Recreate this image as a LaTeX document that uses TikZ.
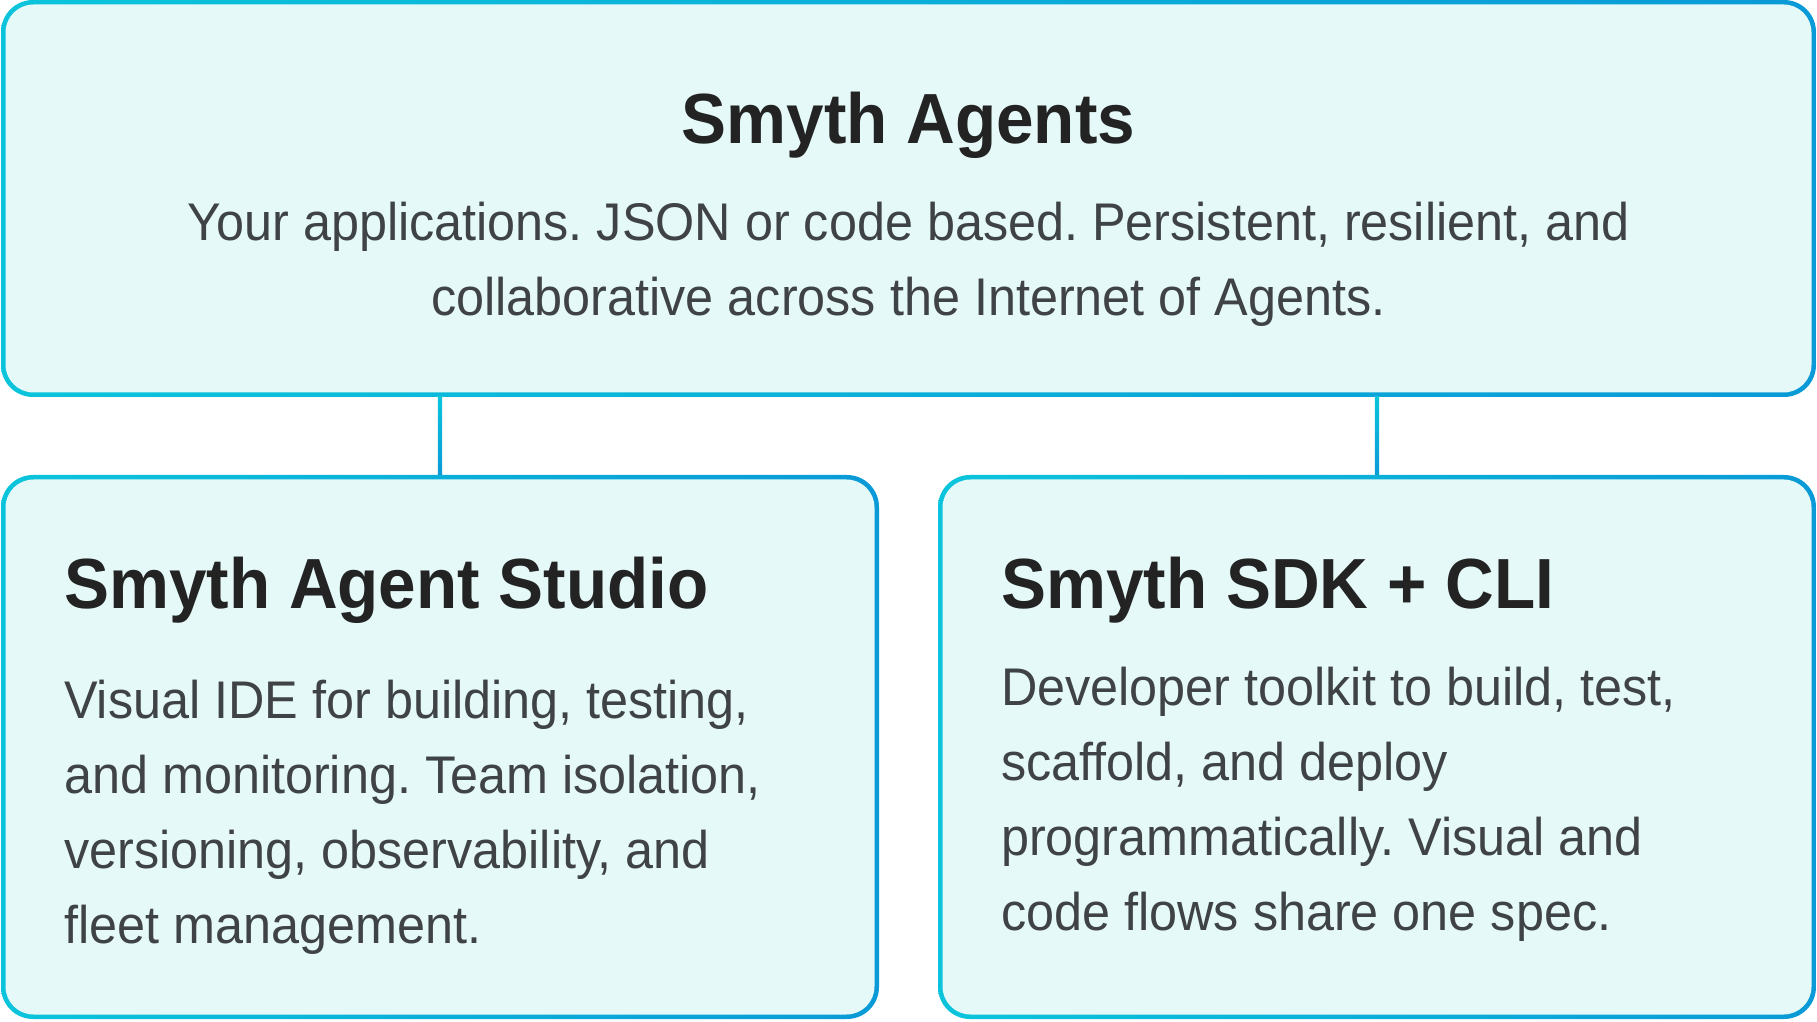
\documentclass[tikz,border=0pt]{standalone}
\usepackage{fontspec}
\setmainfont{Liberation Sans}[FakeStretch=0.95]
\usepackage{tikz}
\frenchspacing
\definecolor{edgecyan}{HTML}{0BC4DB}
\definecolor{edgeblue}{HTML}{0A9AD7}
\definecolor{boxfill}{HTML}{E4F9F8}
\definecolor{headink}{HTML}{232323}
\definecolor{bodyink}{HTML}{3F4345}
\tikzset{
  panel/.style 2 args={rounded corners=32pt, left color=edgecyan, right color=edgeblue,
    inner sep=0pt, outer sep=0pt, minimum width=#1, minimum height=#2,
    path picture={\fill[boxfill, rounded corners=28pt]
      ([shift={(4.5pt,-4.5pt)}]path picture bounding box.north west) rectangle
      ([shift={(-4.5pt,4.5pt)}]path picture bounding box.south east);}},
  heading/.style={inner sep=0pt, text=headink, font=\fontsize{71}{80}\selectfont\bfseries},
  blurb/.style={inner sep=0pt, text=bodyink, font=\fontsize{53}{75}\selectfont},
  link/.style={top color=edgecyan, bottom color=edgeblue}
}

\begin{document}
\begin{tikzpicture}[x=1pt, y=1pt]
\useasboundingbox (0,0) rectangle (1817,1021);
% boxes
\node[panel={1815pt}{397pt}] (agents) at (908.5,822.5) {};
\node[panel={878pt}{544pt}] (studio) at (440,274) {};
\node[panel={878pt}{544pt}] (sdk) at (1377,274) {};
% links
\coordinate (studiojoin) at (studio.north |- agents.south);
\coordinate (sdkjoin) at (sdk.north |- agents.south);
\shade[link] ([xshift=-2.2pt]studiojoin) rectangle ([xshift=2.2pt]studio.north);
\shade[link] ([xshift=-2.2pt]sdkjoin) rectangle ([xshift=2.2pt]sdk.north);
% texts (base = last line)
\node[heading, anchor=base] (agentstitle) at ([yshift=-144pt]agents.north) {Smyth Agents};
\node[blurb, anchor=base, align=center] (agentstext) at ([yshift=-316pt]agents.north)
  {Your applications. JSON or code based. Persistent, resilient, and\\
   collaborative across the Internet of Agents.};
\node[heading, anchor=base west] (studiotitle) at ([shift={(63pt,-133pt)}]studio.north west) {Smyth Agent Studio};
\node[blurb, anchor=base west, align=left] (studiotext) at ([shift={(63pt,-468pt)}]studio.north west)
  {Visual IDE for building, testing,\\
   and monitoring. Team isolation,\\
   versioning, observability, and\\
   fleet management.};
\node[heading, anchor=base west] (sdktitle) at ([shift={(63pt,-133pt)}]sdk.north west) {Smyth SDK + CLI};
\node[blurb, anchor=base west, align=left] (sdktext) at ([shift={(63pt,-455pt)}]sdk.north west)
  {Developer toolkit to build, test,\\
   scaffold, and deploy\\
   programmatically. Visual and\\
   code flows share one spec.};
\end{tikzpicture}
\end{document}
